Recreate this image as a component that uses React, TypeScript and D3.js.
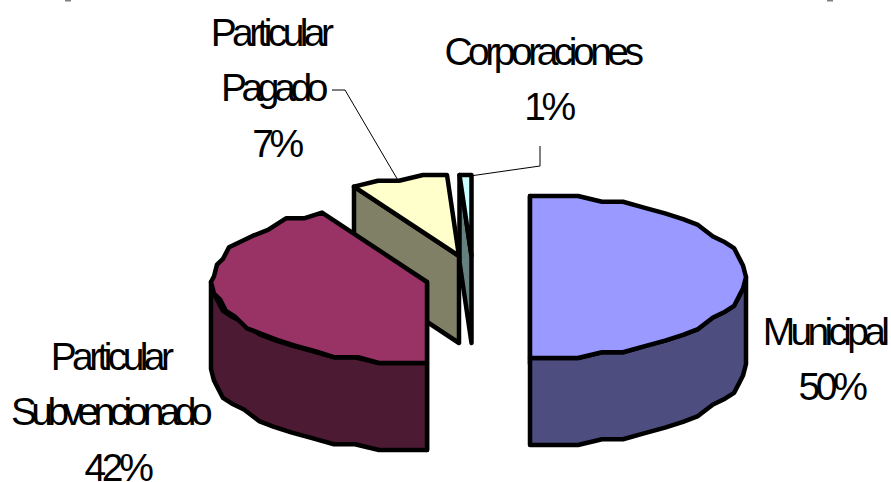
import React from "react";
import * as d3 from "d3";

// Enrolment share by school administration type, in pie order.
const sectors = ["Municipal", "Particular Subvencionado", "Particular Pagado", "Corporaciones"];
const shares = [50, 42, 7, 1];
const topColors = ["#9999ff", "#993366", "#ffffcc", "#ccffff"];
const wallColors = ["#4d4d80", "#4d1a33", "#808066", "#668080"];

// Exploded slice centres, the ellipse of the tilted pie and the extrusion depth.
const WIDTH = 891;
const HEIGHT = 482;
const centers: [number, number][] = [[530, 277], [427, 282], [459, 256], [471.5, 256]];
const RX = 215;
const RY = 81;
const DEPTH = 87;

// The pie is rendered on a coarse device grid, which gives its outline a stepped look.
const ANGLE_STEP = (6.5 * Math.PI) / 180;
const GRID_X = 3;
const GRID_Y = 81 / 14;

const labelLines = [
  { lines: ["Municipal", "50%"], tracking: [-4.7, -4.4], shift: [0, 7], x: 824, y: 345 },
  { lines: ["Particular", "Subvencionado", "42%"], tracking: [-4.6, -5.6, -4.4], shift: [-2, -3, 5], x: 112, y: 370 },
  { lines: ["Particular", "Pagado", "7%"], tracking: [-4.6, -5.4, -4.4], shift: [-1, 1, 5], x: 271, y: 46 },
  { lines: ["Corporaciones", "1%"], tracking: [-4.5, -4.4], shift: [0, 6], x: 542, y: 65 },
];
const LINE_GAP = 55.3;

const leaders: [number, number][][] = [
  [[332, 90], [345, 90], [399, 182]],
  [[540, 146], [540, 166], [470, 176]],
];

// Two short rules that sit on the top edge of the frame.
const edgeMarks = [65, 827];

const unitX = d3.scaleLinear().domain([-1, 1]).range([-RX, RX]);
const unitY = d3.scaleLinear().domain([-1, 1]).range([-RY, RY]);

function rim(angle: number): [number, number] {
  const x = unitX(Math.sin(angle));
  const y = unitY(-Math.cos(angle));
  return [Math.round(x / GRID_X) * GRID_X, Math.round(y / GRID_Y) * GRID_Y];
}

function arcPoints(a0: number, a1: number): [number, number][] {
  const n = Math.max(1, Math.ceil((a1 - a0) / ANGLE_STEP));
  const out: [number, number][] = [];
  d3.range(n + 1).forEach((i) => {
    const p = rim(a0 + ((a1 - a0) * i) / n);
    const last = out[out.length - 1];
    if (!last || last[0] !== p[0] || last[1] !== p[1]) out.push(p);
  });
  return out;
}

const toPath = d3.line<[number, number]>();
const closed = (pts: [number, number][]) => toPath(pts) + "Z";

const arcs = d3.pie<number>().sort(null)(shares);
const FRONT_START = Math.PI / 2;
const FRONT_END = (3 * Math.PI) / 2;

function Slice({ index }: { index: number }) {
  const { startAngle: a0, endAngle: a1 } = arcs[index];
  const [cx, cy] = centers[index];
  const outer = arcPoints(a0, a1);
  const first = rim(a0);
  const face: [number, number][] = [[0, 0], first, [first[0], first[1] + DEPTH], [0, DEPTH]];
  const wa0 = Math.max(a0, FRONT_START);
  const wa1 = Math.min(a1, FRONT_END);
  let wall: [number, number][] | null = null;
  if (wa1 > wa0) {
    const arc = arcPoints(wa0, wa1);
    wall = [...arc, ...arc.slice().reverse().map(([x, y]) => [x, y + DEPTH] as [number, number])];
  }
  return (
    <g transform={`translate(${cx},${cy})`} stroke="#000" strokeWidth={4.5} strokeLinejoin="round">
      <path d={closed(face)} fill={wallColors[index]} />
      {wall && <path d={closed(wall)} fill={wallColors[index]} />}
      <path d={closed([[0, 0], ...outer])} fill={topColors[index]} />
    </g>
  );
}

export default function App() {
  return (
    <svg
      width={WIDTH}
      height={HEIGHT}
      viewBox={`0 0 ${WIDTH} ${HEIGHT}`}
      style={{ position: "fixed", left: 0, top: 0, background: "#fff" }}
    >
      {edgeMarks.map((x) => (
        <rect key={x} x={x} y={0} width={6} height={1.5} fill="#808080" />
      ))}
      {d3.range(sectors.length - 1, -1, -1).map((i) => (
        <Slice key={sectors[i]} index={i} />
      ))}
      {leaders.map((pts, i) => (
        <path key={i} d={toPath(pts) ?? ""} fill="none" stroke="#000" strokeWidth={1} />
      ))}
      {labelLines.map((l) => (
        <text
          key={l.lines[0] + l.x}
          textAnchor="middle"
          fontFamily="'Liberation Sans', Arial, sans-serif"
          fontSize={39}
          fill="#000"
        >
          {l.lines.map((t, j) => (
            <tspan key={j} x={l.x + l.shift[j]} y={l.y + j * LINE_GAP} letterSpacing={l.tracking[j]}>
              {t}
            </tspan>
          ))}
        </text>
      ))}
    </svg>
  );
}
